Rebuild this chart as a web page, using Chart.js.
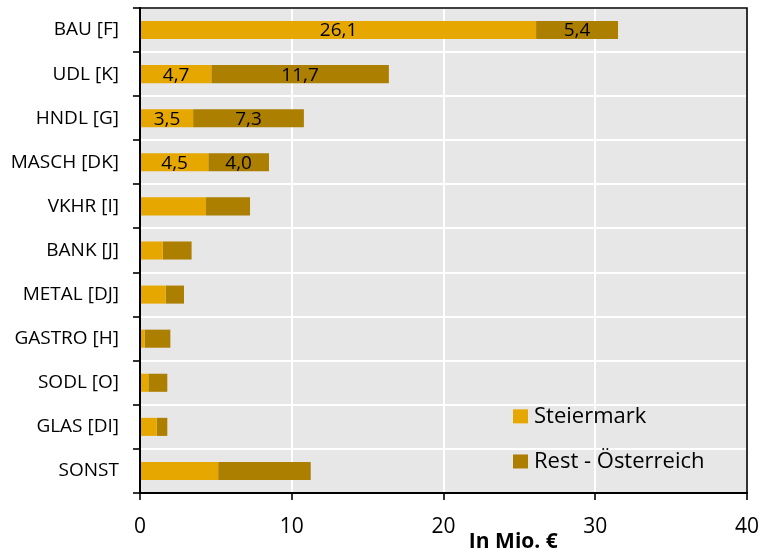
<!DOCTYPE html>
<html>
<head>
<meta charset="utf-8">
<script src="https://cdn.jsdelivr.net/npm/chart.js@4"></script>
<style>
  html, body { margin: 0; padding: 0; background: #ffffff; }
  #wrap { width: 763px; height: 550px; position: relative; }
</style>
</head>
<body>
<div id="wrap"><canvas id="chart" width="763" height="550"></canvas></div>
<script>
// Branchen (ÖNACE-Abschnitte)
const categories = ['BAU [F]', 'UDL [K]', 'HNDL [G]', 'MASCH [DK]', 'VKHR [I]', 'BANK [J]',
  'METAL [DJ]', 'GASTRO [H]', 'SODL [O]', 'GLAS [DI]', 'SONST'];

// Werte in Mio. €
const steiermark = [26.1, 4.7, 3.5, 4.5, 4.35, 1.5, 1.7, 0.3, 0.55, 1.1, 5.15];
const restOesterreich = [5.4, 11.7, 7.3, 4.0, 2.9, 1.9, 1.2, 1.7, 1.25, 0.7, 6.1];

const seriesNames = ['Steiermark', 'Rest - Österreich'];
const xTicks = [0, 10, 20, 30, 40];
const axisTitle = 'In Mio. €';
// Only the largest sectors carry value labels
const labelledRows = 4;

const colSteiermark = '#E6A800';
const colRest = '#AD7F00';

Chart.defaults.font.family = "'Open Sans', 'Noto Sans', sans-serif";
Chart.defaults.color = '#000000';

const decorations = {
  id: 'decorations',
  beforeDraw(chart) {
    const { ctx, chartArea: a } = chart;
    ctx.save();
    ctx.fillStyle = '#E7E7E7';
    ctx.fillRect(a.left, a.top, a.right - a.left, a.bottom - a.top);
    ctx.restore();
  },
  afterDraw(chart) {
    const { ctx, chartArea: a } = chart;
    ctx.save();
    // frame around the plot
    ctx.strokeStyle = '#000000';
    ctx.lineWidth = 1.6;
    ctx.beginPath();
    ctx.moveTo(a.left, a.top);
    ctx.lineTo(a.right, a.top);
    ctx.lineTo(a.right, a.bottom);
    ctx.stroke();

    // value labels inside the segments
    ctx.font = "19px 'Open Sans', sans-serif";
    ctx.fillStyle = '#000000';
    ctx.textAlign = 'center';
    ctx.textBaseline = 'middle';
    chart.data.datasets.forEach((ds, di) => {
      const meta = chart.getDatasetMeta(di);
      meta.data.forEach((bar, i) => {
        if (i >= labelledRows) return;
        const { x, base, y } = bar.getProps(['x', 'base', 'y'], true);
        const txt = ds.data[i].toFixed(1).replace('.', ',');
        ctx.fillText(txt, (x + base) / 2, y + 1);
      });
    });

    // legend inside the plot, lower right
    const lx = a.left + (a.right - a.left) * 0.6145;
    const rows = [a.top + (a.bottom - a.top) * 0.842, a.top + (a.bottom - a.top) * 0.935];
    ctx.font = "22px 'Open Sans', sans-serif";
    ctx.textAlign = 'left';
    chart.data.datasets.forEach((ds, di) => {
      const cy = rows[di];
      ctx.fillStyle = ds.backgroundColor;
      ctx.fillRect(lx, cy - 7, 15, 14);
      ctx.fillStyle = '#000000';
      ctx.fillText(ds.label, lx + 21, cy);
    });

    // axis title
    const xs = chart.scales.x;
    ctx.font = "bold 21px 'Open Sans', sans-serif";
    ctx.textAlign = 'center';
    ctx.textBaseline = 'alphabetic';
    ctx.fillText(axisTitle, xs.getPixelForValue(24.6), chart.height - 2);
    ctx.restore();
  }
};

new Chart(document.getElementById('chart'), {
  type: 'bar',
  data: {
    labels: categories,
    datasets: [
      { label: seriesNames[0], data: steiermark, backgroundColor: colSteiermark, borderWidth: 0 },
      { label: seriesNames[1], data: restOesterreich, backgroundColor: colRest, borderWidth: 0 }
    ]
  },
  options: {
    indexAxis: 'y',
    responsive: false,
    animation: false,
    layout: { padding: { top: 8, right: 16, left: 0, bottom: 0 } },
    datasets: { bar: { barPercentage: 0.41, categoryPercentage: 1.0 } },
    plugins: { legend: { display: false }, tooltip: { enabled: false } },
    scales: {
      x: {
        stacked: true,
        min: xTicks[0],
        max: xTicks[xTicks.length - 1],
        afterBuildTicks(scale) { scale.ticks = xTicks.map(v => ({ value: v })); },
        afterFit(scale) { scale.height = 57; scale.paddingLeft = 0; scale.paddingRight = 0; },
        grid: { color: '#FFFFFF', lineWidth: 2, tickColor: '#000000', tickLength: 7, tickWidth: 1.6 },
        border: { color: '#000000', width: 2 },
        ticks: { font: { size: 21 }, padding: 14, maxRotation: 0 }
      },
      y: {
        stacked: true,
        afterFit(scale) { scale.width = 140; scale.paddingTop = 0; scale.paddingBottom = 0; },
        grid: { color: '#FFFFFF', lineWidth: 2, offset: true, tickColor: '#000000', tickLength: 7, tickWidth: 1.6 },
        border: { color: '#000000', width: 2 },
        ticks: { font: { size: 19 }, padding: 14 }
      }
    }
  },
  plugins: [decorations]
});
</script>
</body>
</html>
